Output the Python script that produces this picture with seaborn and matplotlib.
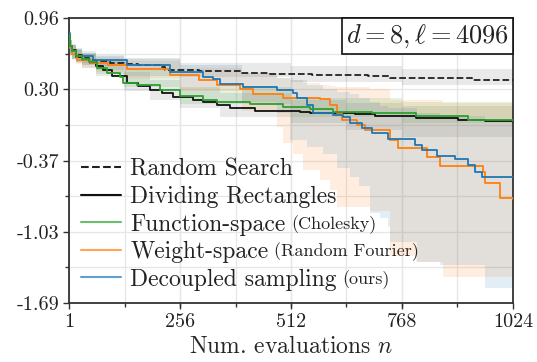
import numpy as np
import pandas as pd
import seaborn as sns
import matplotlib
matplotlib.use("Agg")
import matplotlib.pyplot as plt
from matplotlib.lines import Line2D
from matplotlib.offsetbox import AnchoredText

# ---------------- data ----------------
labels = ["Random Search", "Dividing Rectangles", "Function-space",
          "Weight-space", "Decoupled sampling"]
label_notes = ["", "", "(Cholesky)", "(Random Fourier)", "(ours)"]

x_ticks = [1, 256, 512, 768, 1024]
y_tick_labels = ["-1.69", "-1.03", "-0.37", "0.30", "0.96"]
y_limits = [-1.69, 0.96]

# Random search
rs_n = [1, 4, 8, 16, 32, 48, 64, 96, 128, 160, 210, 222, 300, 400, 464, 560, 690, 740, 930, 1024]
rs_v = [0.80, 0.70, 0.66, 0.62, 0.59, 0.57, 0.56, 0.545, 0.53, 0.52, 0.505, 0.475, 0.465, 0.45,
        0.44, 0.435, 0.42, 0.40, 0.385, 0.385]
rs_bn = [1, 4, 8, 16, 32, 64, 128, 256, 512, 768, 1024]
rs_lo = [0.70, 0.63, 0.60, 0.56, 0.54, 0.51, 0.48, 0.41, 0.37, 0.34, 0.33]
rs_hi = [0.90, 0.76, 0.72, 0.68, 0.64, 0.61, 0.59, 0.54, 0.51, 0.49, 0.47]

# Dividing rectangles
dr_n = [1, 4, 8, 16, 32, 49, 64, 79, 100, 134, 160, 187, 215, 240, 287, 310, 342, 372,
        430, 533, 556, 660, 706, 800, 897, 960, 1024]
dr_v = [0.80, 0.70, 0.65, 0.60, 0.57, 0.54, 0.51, 0.48, 0.42, 0.36, 0.33, 0.29, 0.26, 0.23,
        0.20, 0.18, 0.15, 0.12, 0.10, 0.085, 0.075, 0.065, 0.05, 0.03, 0.01, 0.0, -0.005]
dr_bn = [1, 4, 8, 16, 32, 64, 128, 187, 256, 348, 512, 640, 768, 1024]
dr_lo = [0.70, 0.62, 0.58, 0.54, 0.50, 0.42, 0.28, 0.20, 0.12, 0.04, -0.02, -0.08, -0.15, -0.20]
dr_hi = [0.90, 0.76, 0.71, 0.66, 0.63, 0.58, 0.46, 0.38, 0.32, 0.26, 0.20, 0.17, 0.14, 0.10]

# Function-space (Cholesky)
fs_n = [1, 4, 8, 16, 32, 48, 65, 88, 118, 125, 157, 210, 256, 310, 342, 418, 494, 556,
        609, 700, 800, 920, 1024]
fs_v = [0.80, 0.70, 0.65, 0.61, 0.58, 0.55, 0.50, 0.45, 0.41, 0.36, 0.34, 0.29, 0.24, 0.20,
        0.18, 0.16, 0.13, 0.11, 0.085, 0.075, 0.05, 0.01, 0.0]
fs_bn = [1, 4, 8, 16, 32, 64, 128, 256, 512, 768, 1024]
fs_lo = [0.70, 0.62, 0.58, 0.55, 0.52, 0.44, 0.32, 0.16, 0.04, -0.02, -0.08]
fs_hi = [0.90, 0.76, 0.71, 0.67, 0.64, 0.56, 0.48, 0.32, 0.22, 0.18, 0.10]

# Weight-space (Random Fourier)
ws_n = [1, 4, 8, 19, 49, 90, 134, 234, 300, 342, 395, 425, 494, 580, 602, 618, 630, 664,
        683, 740, 759, 826, 856, 955, 960, 994, 1024]
ws_v = [0.80, 0.68, 0.63, 0.57, 0.54, 0.52, 0.49, 0.43, 0.38, 0.34, 0.30, 0.25, 0.22, 0.21,
        0.15, 0.08, 0.01, -0.03, -0.08, -0.17, -0.25, -0.33, -0.42, -0.47, -0.57, -0.71, -0.72]
ws_bn = [1, 4, 8, 16, 32, 64, 128, 256, 400, 480, 494, 517, 540, 580, 602, 618, 694, 740,
         800, 862, 1024]
ws_lo = [0.70, 0.61, 0.57, 0.53, 0.50, 0.46, 0.40, 0.28, 0.10, -0.05, -0.20, -0.30, -0.45,
         -0.55, -0.64, -0.80, -0.83, -1.25, -1.31, -1.45, -1.45]
ws_hi = [0.90, 0.75, 0.70, 0.66, 0.63, 0.60, 0.56, 0.50, 0.45, 0.40, 0.40, 0.38, 0.36, 0.34,
         0.33, 0.32, 0.30, 0.20, 0.20, 0.17, 0.17]

# Decoupled sampling (ours)
ds_n = [1, 4, 8, 16, 56, 134, 234, 310, 333, 349, 402, 480, 517, 526, 549, 563, 609, 632,
        648, 676, 699, 736, 798, 814, 849, 890, 920, 936, 952, 1024]
ds_v = [0.82, 0.70, 0.65, 0.61, 0.57, 0.52, 0.46, 0.41, 0.39, 0.35, 0.32, 0.29, 0.26, 0.22,
        0.15, 0.08, 0.06, 0.04, -0.02, -0.06, -0.11, -0.16, -0.22, -0.27, -0.32, -0.35, -0.41,
        -0.47, -0.52, -0.52]
ds_bn = [1, 4, 8, 16, 32, 64, 128, 256, 400, 480, 510, 549, 586, 618, 648, 670, 694, 717,
         735, 740, 802, 856, 960, 1024]
ds_lo = [0.70, 0.62, 0.58, 0.55, 0.52, 0.48, 0.42, 0.32, 0.18, 0.08, -0.17, -0.24, -0.30,
         -0.43, -0.52, -0.60, -0.85, -0.90, -0.98, -1.12, -1.31, -1.34, -1.55, -1.55]
ds_hi = [0.90, 0.76, 0.71, 0.67, 0.65, 0.62, 0.58, 0.52, 0.45, 0.40, 0.38, 0.34, 0.30, 0.27,
         0.25, 0.22, 0.18, 0.14, 0.12, 0.12, 0.08, 0.05, 0.02, 0.0]

# ---------------- style ----------------
sns.set_theme(style="whitegrid")
plt.rcParams["font.family"] = ["cmr10", "DejaVu Serif"]
plt.rcParams["mathtext.fontset"] = "cm"
plt.rcParams["axes.unicode_minus"] = False
plt.rcParams["axes.formatter.use_mathtext"] = True
plt.rcParams["text.color"] = "#222222"

colors = ["#222222", "#111111", "#2ca02c", "#ff7f0e", "#1f77b4"]
band_colors = ["#555555", "#555555", "#2ca02c", "#ff7f0e", "#1f77b4"]
styles = ["--", "-", "-", "-", "-"]

series = [
    (rs_n, rs_v, rs_bn, rs_lo, rs_hi),
    (dr_n, dr_v, dr_bn, dr_lo, dr_hi),
    (fs_n, fs_v, fs_bn, fs_lo, fs_hi),
    (ws_n, ws_v, ws_bn, ws_lo, ws_hi),
    (ds_n, ds_v, ds_bn, ds_lo, ds_hi),
]

fig = plt.figure(figsize=(5.37, 3.62), dpi=100)
ax = fig.add_axes([0.1285, 0.163, 0.8268, 0.787])

for i, (n, v, bn, lo, hi) in enumerate(series):
    ax.fill_between(bn, lo, hi, step="post", color=band_colors[i], alpha=0.13,
                    lw=0, zorder=1)

draw_order = [0, 1, 3, 4, 2]
for i in draw_order:
    n, v = series[i][0], series[i][1]
    df = pd.DataFrame({"n": n, "v": v})
    sns.lineplot(data=df, x="n", y="v", ax=ax, color=colors[i], lw=1.3,
                 linestyle=styles[i], drawstyle="steps-post", estimator=None,
                 errorbar=None, sort=False, zorder=3)

ax.set_xlim(1, 1024)
ax.set_ylim(*y_limits)
ax.set_xticks(x_ticks)
ax.set_xticklabels([str(t) for t in x_ticks])
ax.set_xticks(np.linspace(1, 1024, 9), minor=True)
y_ticks = np.linspace(y_limits[0], y_limits[1], 5)
ax.set_yticks(y_ticks)
ax.set_yticklabels(y_tick_labels)
ax.set_yticks(np.linspace(y_limits[0], y_limits[1], 9), minor=True)

ax.grid(True, which="both", color="#e6e6e6", lw=0.9)
ax.set_axisbelow(True)
ax.tick_params(which="both", direction="out", color="#333333", width=1.0,
               left=True, bottom=True, labelsize=14.5, labelcolor="#222222")
ax.tick_params(which="major", length=4, pad=3.0)
ax.tick_params(which="minor", length=3)
for s in ax.spines.values():
    s.set_color("#333333")
    s.set_linewidth(1.3)

ax.set_xlabel("Num. evaluations $n$", fontsize=17, labelpad=4)
ax.set_ylabel("")

handles = []
for i in range(5):
    handles.append(Line2D([0], [0], color=colors[i], lw=1.5, linestyle=styles[i],
                          alpha=1.0 if i < 2 else 0.7))
leg = ax.legend(handles, labels, loc="lower left", frameon=False, fontsize=17,
                handlelength=1.7, handletextpad=0.38, labelspacing=0.23,
                borderpad=0.1, borderaxespad=0.42)
leg.set_zorder(5)
for txt, note in zip(leg.get_texts(), label_notes):
    if note:
        ax.annotate(note, xy=(1, 0), xycoords=txt, xytext=(4, 1.2),
                    textcoords="offset points", fontsize=13, ha="left",
                    va="bottom", zorder=10, color="#222222")

at = AnchoredText(r"$d = 8, \ell = 4096$", loc="upper right", frameon=True,
                  borderpad=0.0, pad=0.15, prop=dict(fontsize=19))
at.patch.set_edgecolor("#111111")
at.patch.set_linewidth(1.2)
at.patch.set_boxstyle("square,pad=0")
at.set_zorder(6)
ax.add_artist(at)

fig.savefig("out.png", dpi=100)
